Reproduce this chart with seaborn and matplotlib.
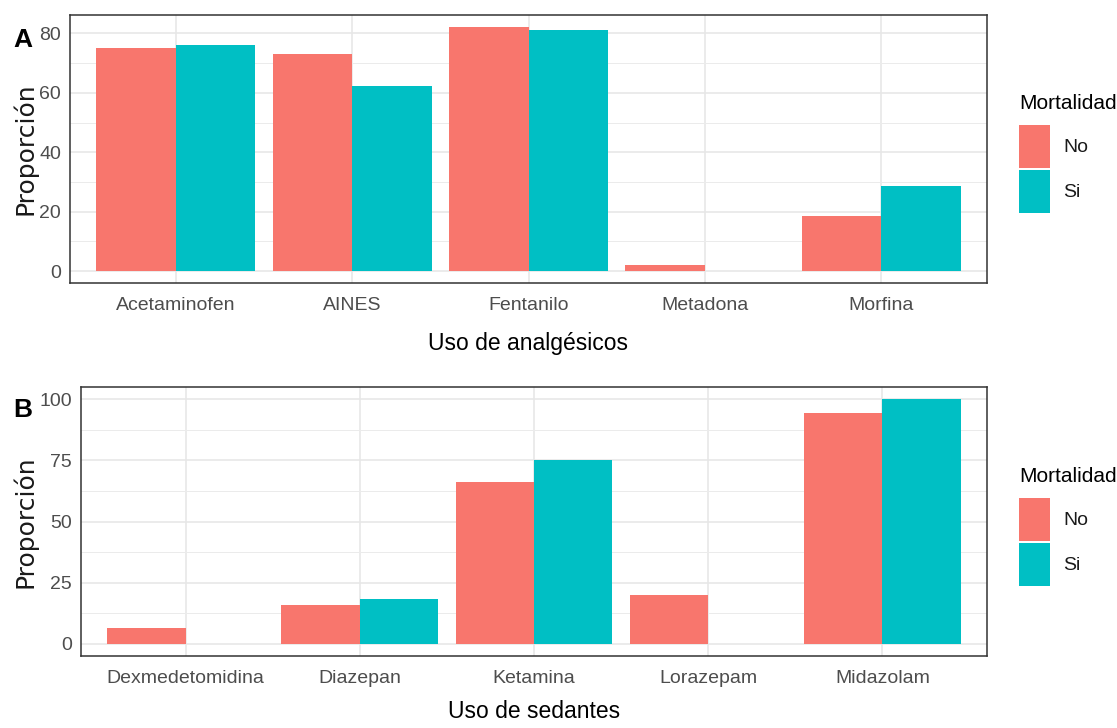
import matplotlib
matplotlib.use("Agg")
import matplotlib.pyplot as plt
import pandas as pd
import seaborn as sns
from matplotlib.patches import Patch
from matplotlib.ticker import MultipleLocator

# Proporción (%) de uso de cada fármaco según mortalidad
analgesicos = ["Acetaminofen", "AINES", "Fentanilo", "Metadona", "Morfina"]
analg_no = [75.0, 73.1, 82.1, 2.2, 18.7]
analg_si = [76.2, 62.3, 81.3, 0.0, 28.6]

sedantes = ["Dexmedetomidina", "Diazepan", "Ketamina", "Lorazepam", "Midazolam"]
sed_no = [6.4, 16.0, 66.0, 20.1, 94.5]
sed_si = [0.0, 18.4, 75.1, 0.0, 100.0]

grupos = ["No", "Si"]
colores = ["#F8766D", "#00BFC4"]

sns.set_theme(style="white")
FAMILIA = ["Liberation Sans", "DejaVu Sans"]
plt.rcParams["font.family"] = FAMILIA

W, H = 1117, 728
fig = plt.figure(figsize=(W / 100, H / 100), dpi=100)

LEG_FS = 14.0                 # pt
LEG_FS_PX = LEG_FS * 100 / 72  # px
KEY_W, KEY_H = 31, 43          # px
# matplotlib draws the patch handle at fs*h - 0.35*fs*(h-0.7)
HANDLE_H = (KEY_H / LEG_FS_PX - 0.245) / 0.65


def axes_px(left, top, right, bottom):
    return fig.add_axes([left / W, 1 - bottom / H, (right - left) / W, (bottom - top) / H])


def panel(ax, cats, no, si, xlabel, ystep, ylab_x, xlab_y, leg_top, title_base, letter, letter_base):
    df = pd.DataFrame({
        "categoria": cats * 2,
        "valor": no + si,
        "Mortalidad": [grupos[0]] * len(cats) + [grupos[1]] * len(cats),
    })
    sns.barplot(data=df, x="categoria", y="valor", hue="Mortalidad",
                order=cats, hue_order=grupos, palette=colores,
                width=0.9, saturation=1, linewidth=0, errorbar=None,
                legend=False, ax=ax)
    ymax = max(no + si)
    ax.set_ylim(-0.05 * ymax, 1.05 * ymax)
    ax.set_xlim(-0.6, len(cats) - 0.4)
    ax.set_axisbelow(True)

    ax.yaxis.set_major_locator(MultipleLocator(ystep))
    ax.yaxis.set_minor_locator(MultipleLocator(ystep / 2))
    ax.grid(which="major", axis="both", color="#E6E6E6", linewidth=1.1)
    ax.grid(which="minor", axis="y", color="#EBEBEB", linewidth=0.7)

    for s in ax.spines.values():
        s.set_visible(True)
        s.set_color("#333333")
        s.set_linewidth(1.1)

    ax.tick_params(which="major", length=5, width=1.1, color="#333333",
                   labelsize=14, labelcolor="#4D4D4D")
    ax.tick_params(axis="x", pad=5)
    ax.tick_params(axis="y", pad=1.5)
    ax.tick_params(which="minor", length=0)

    ax.set_xlabel(xlabel, fontsize=16.5, color="#000000")
    ax.xaxis.set_label_coords(0.5, xlab_y)
    ax.set_ylabel("Proporción", fontsize=18, color="#1A1A1A",
                  family=["DejaVu Sans"])
    ax.yaxis.set_label_coords(ylab_x, 0.5)

    handles = [Patch(facecolor=c, edgecolor="none", label=g)
               for g, c in zip(grupos, colores)]
    ax.legend(handles=handles, loc="upper left",
              bbox_to_anchor=(1019 / W, 1 - leg_top / H),
              bbox_transform=fig.transFigure, frameon=False,
              borderpad=0, borderaxespad=0,
              handlelength=KEY_W / LEG_FS_PX, handleheight=HANDLE_H,
              handletextpad=13 / LEG_FS_PX, labelspacing=2 / LEG_FS_PX,
              fontsize=LEG_FS, labelcolor="#1A1A1A")
    fig.text(1019 / W, 1 - title_base / H, "Mortalidad", fontsize=15,
             va="baseline", ha="left", color="#000000")
    fig.text(13 / W, 1 - letter_base / H, letter, fontsize=19,
             weight="bold", va="baseline", ha="left", color="#000000")


ax_a = axes_px(70, 15, 987, 283.3)
panel(ax_a, analgesicos, analg_no, analg_si, "Uso de analgésicos", 20,
      ylab_x=(38 - 70) / 917, xlab_y=(283.3 - 332) / 268.3,
      leg_top=125, title_base=109, letter="A", letter_base=47)

ax_b = axes_px(81, 387, 987, 656)
panel(ax_b, sedantes, sed_no, sed_si, "Uso de sedantes", 25,
      ylab_x=(38 - 81) / 906, xlab_y=(656 - 700) / 269,
      leg_top=498, title_base=482, letter="B", letter_base=417)

fig.savefig("out.png", dpi=100)
